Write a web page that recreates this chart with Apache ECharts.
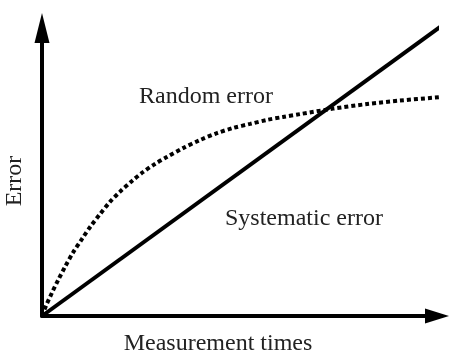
<!DOCTYPE html>
<html>
<head>
<meta charset="utf-8">
<script src="https://cdn.jsdelivr.net/npm/echarts@6/dist/echarts.min.js"></script>
<style>
  html, body { margin: 0; padding: 0; background: #fff; }
  #chart { width: 450px; height: 353px; }
</style>
</head>
<body>
<div id="chart"></div>
<script>
const randomX = [0, 1.0, 2.5, 4.1, 5.8, 7.8, 10.1, 12.4, 14.7, 17.2, 19.7, 22.8, 25.6, 28.6, 31.6, 35.7, 40.0, 44.3, 48.4, 52.7, 57.0, 61.0, 65.3, 73.7, 82.3, 90.6, 100.8]
const randomY = [0, 3.5, 8.0, 12.5, 17.0, 21.9, 26.7, 31.3, 35.4, 39.6, 43.1, 46.9, 50.0, 52.8, 55.2, 58.3, 61.1, 63.5, 65.3, 66.7, 68.1, 69.1, 70.1, 72.0, 73.6, 74.8, 76.0]
const systematicX = [0, 101.8]
const systematicY = [0, 101.4]

const serif = '"Liberation Serif", "Times New Roman", serif'
const zip = (xs, ys) => xs.map((x, i) => [x, ys[i]])

const chart = echarts.init(document.getElementById('chart'))
const axisCommon = {
  type: 'value',
  min: 0,
  max: 100,
  axisLabel: { show: false },
  axisTick: { show: false },
  splitLine: { show: false },
  axisLine: {
    show: true,
    onZero: false,
    lineStyle: { color: '#000', width: 4 }
  }
}
chart.setOption({
  animation: false,
  backgroundColor: '#fff',
  grid: { left: 42, right: 13, top: 28, bottom: 37 },
  xAxis: Object.assign({}, axisCommon, {
    axisLine: Object.assign({}, axisCommon.axisLine, { symbol: ['none', 'triangle'], symbolSize: [15, 24] })
  }),
  yAxis: Object.assign({}, axisCommon, {
    axisLine: Object.assign({}, axisCommon.axisLine, { symbol: ['none', 'triangle'], symbolSize: [15, 30] })
  }),
  series: [
    {
      name: 'Systematic error',
      type: 'line',
      clip: false,
      showSymbol: false,
      symbol: 'none',
      lineStyle: { color: '#000', width: 4 },
      data: zip(systematicX, systematicY)
    },
    {
      name: 'Random error',
      type: 'line',
      clip: false,
      smooth: 0.3,
      showSymbol: false,
      symbol: 'none',
      lineStyle: { color: '#000', width: 4, type: [4, 3], cap: 'butt' },
      data: zip(randomX, randomY)
    }
  ],
  graphic: [
    {
      type: 'text', x: 206, y: 97,
      style: { text: 'Random error', font: '24px ' + serif, fill: '#222', textAlign: 'center', textVerticalAlign: 'middle' }
    },
    {
      type: 'text', x: 225, y: 219,
      style: { text: 'Systematic error', font: '24px ' + serif, fill: '#222', textAlign: 'left', textVerticalAlign: 'middle' }
    },
    {
      type: 'text', x: 218, y: 344,
      style: { text: 'Measurement times', font: '24px ' + serif, fill: '#222', textAlign: 'center', textVerticalAlign: 'middle' }
    },
    {
      type: 'text', x: 15, y: 181, rotation: Math.PI / 2,
      style: { text: 'Error', font: '24px ' + serif, fill: '#222', textAlign: 'center', textVerticalAlign: 'middle' }
    }
  ]
})
</script>
</body>
</html>
